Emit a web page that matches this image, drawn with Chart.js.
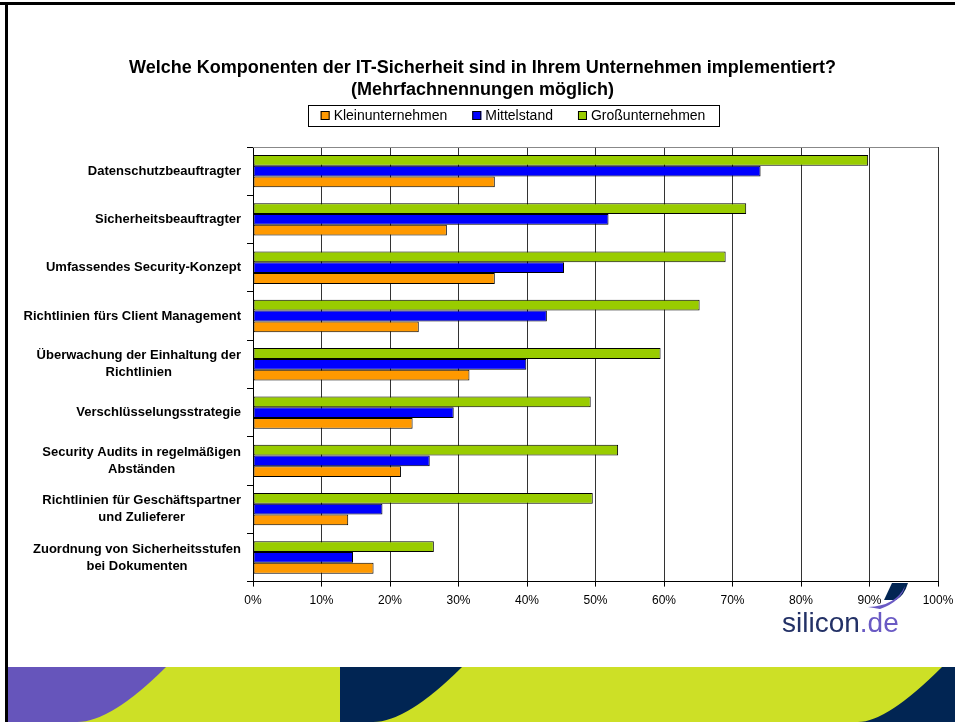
<!DOCTYPE html>
<html>
<head>
<meta charset="utf-8">
<script src="https://cdn.jsdelivr.net/npm/chart.js@4.4.1/dist/chart.umd.min.js"></script>
<style>
  html, body { margin: 0; padding: 0; background: #fff; }
  canvas { display: block; }
</style>
</head>
<body>
<canvas id="itChart" width="955" height="722"></canvas>
<script>
  const titleLines = [
    "Welche Komponenten der IT-Sicherheit sind in Ihrem Unternehmen implementiert?",
    "(Mehrfachnennungen möglich)"
  ];

  const categories = [
    ["Datenschutzbeauftragter"],
    ["Sicherheitsbeauftragter"],
    ["Umfassendes Security-Konzept"],
    ["Richtlinien fürs Client Management"],
    ["Überwachung der Einhaltung der", "Richtlinien"],
    ["Verschlüsselungsstrategie"],
    ["Security Audits in regelmäßigen", "Abständen"],
    ["Richtlinien für Geschäftspartner", "und Zulieferer"],
    ["Zuordnung von Sicherheitsstufen", "bei Dokumenten"]
  ];

  // values in percent
  const kleinunternehmen = [35.3, 28.3, 35.3, 24.2, 31.6, 23.3, 21.6, 13.9, 17.6];
  const mittelstand      = [74.1, 51.9, 45.4, 42.9, 39.9, 29.3, 25.8, 18.9, 14.6];
  const grossunternehmen = [89.8, 72.0, 69.0, 65.2, 59.5, 49.3, 53.3, 49.6, 26.4];

  const tickLabels = ["0%", "10%", "20%", "30%", "40%", "50%", "60%", "70%", "80%", "90%", "100%"];

  Chart.defaults.font.family = "Arial, 'Liberation Sans', sans-serif";
  Chart.defaults.color = "#000";

  // white page, black frame and the coloured band at the bottom
  const pageDeco = {
    id: 'pageDeco',
    beforeDraw(chart) {
      const c = chart.ctx;
      const w = chart.width, h = chart.height;
      c.save();
      c.fillStyle = '#fff';
      c.fillRect(0, 0, w, h);

      const top = 667;
      c.fillStyle = '#cde026';
      c.fillRect(8, top, w - 8, h - top);

      c.fillStyle = '#6655bb';
      c.beginPath();
      c.moveTo(8, top);
      c.lineTo(166, top);
      c.quadraticCurveTo(111, h, 77, h);
      c.lineTo(8, h);
      c.closePath();
      c.fill();

      c.fillStyle = '#012553';
      c.beginPath();
      c.moveTo(340, top);
      c.lineTo(462, top);
      c.quadraticCurveTo(407, h, 373, h);
      c.lineTo(340, h);
      c.closePath();
      c.fill();

      c.beginPath();
      c.moveTo(942, top);
      c.lineTo(w, top);
      c.lineTo(w, h);
      c.lineTo(858, h);
      c.quadraticCurveTo(887, h, 942, top);
      c.closePath();
      c.fill();

      c.fillStyle = '#000';
      c.fillRect(0, 2, w, 3);
      c.fillRect(5, 2, 3, h - 2);
      c.restore();
    },
    beforeDatasetsDraw(chart) {
      const c = chart.ctx;
      const a = chart.chartArea;
      c.save();
      c.strokeStyle = '#888';
      c.lineWidth = 1;
      c.beginPath();
      c.moveTo(a.left, a.top + 0.5);
      c.lineTo(a.right, a.top + 0.5);
      c.stroke();
      c.restore();
    }
  };

  // category labels: right aligned block, lines centred inside it
  const catLabels = {
    id: 'catLabels',
    afterDraw(chart) {
      const c = chart.ctx;
      const yScale = chart.scales.y;
      const right = chart.chartArea.left - 12;
      const lh = 17;
      c.save();
      c.font = "bold 13px Arial, 'Liberation Sans', sans-serif";
      c.fillStyle = '#000';
      c.textAlign = 'center';
      c.textBaseline = 'middle';
      chart.data.labels.forEach((lines, i) => {
        const y = yScale.getPixelForTick(i);
        const maxW = Math.max(...lines.map(l => c.measureText(l).width));
        const cx = right - maxW / 2;
        const y0 = y - (lines.length - 1) * lh / 2;
        lines.forEach((l, j) => c.fillText(l, cx, y0 + j * lh));
      });
      c.restore();
    }
  };

  // legend in a box, same order as the original
  const boxLegend = {
    id: 'boxLegend',
    afterDraw(chart) {
      const c = chart.ctx;
      const sets = chart.data.datasets.slice().reverse();
      const box = 9, gap = 25, textOff = 13;
      c.save();
      c.font = "14px Arial, 'Liberation Sans', sans-serif";
      const widths = sets.map(s => c.measureText(s.label).width);
      const total = widths.reduce((a, b) => a + b, 0) + sets.length * textOff + (sets.length - 1) * gap;
      let x = 513 - total / 2;
      const cy = 116;
      c.strokeStyle = '#000';
      c.lineWidth = 1;
      c.strokeRect(Math.round(x - 13) + 0.5, 105.5, Math.round(total + 26), 21);
      c.textBaseline = 'middle';
      c.textAlign = 'left';
      sets.forEach((s, i) => {
        c.fillStyle = s.backgroundColor;
        c.fillRect(x, cy - 5, box, box);
        c.strokeStyle = '#000';
        c.strokeRect(x + 0.5, cy - 4.5, box - 1, box - 1);
        c.fillStyle = '#000';
        c.fillText(s.label, x + textOff, cy);
        x += textOff + widths[i] + gap;
      });
      c.restore();
    }
  };

  // silicon.de logo at the lower right
  const logo = {
    id: 'logo',
    afterDraw(chart) {
      const c = chart.ctx;
      c.save();
      c.fillStyle = '#012553';
      c.beginPath();
      c.moveTo(892, 583);
      c.lineTo(908, 583);
      c.quadraticCurveTo(904, 596, 896, 600);
      c.lineTo(884, 600);
      c.closePath();
      c.fill();
      c.fillStyle = '#6a5ac4';
      c.beginPath();
      c.moveTo(868, 607);
      c.quadraticCurveTo(896, 606, 905, 586);
      c.quadraticCurveTo(902, 601, 880, 609);
      c.closePath();
      c.fill();

      c.font = "28px Arial, 'Liberation Sans', sans-serif";
      c.textBaseline = 'alphabetic';
      c.textAlign = 'left';
      c.fillStyle = '#233166';
      c.fillText('silicon', 782, 632);
      const w = c.measureText('silicon').width;
      c.fillStyle = '#6a5ac4';
      c.fillText('.de', 782 + w, 632);
      c.restore();
    }
  };

  new Chart(document.getElementById('itChart'), {
    type: 'bar',
    data: {
      labels: categories,
      datasets: [
        { label: 'Großunternehmen', data: grossunternehmen, backgroundColor: '#99cc00' },
        { label: 'Mittelstand', data: mittelstand, backgroundColor: '#0000ff' },
        { label: 'Kleinunternehmen', data: kleinunternehmen, backgroundColor: '#ff9900' }
      ].map(d => Object.assign(d, { borderColor: '#000', borderWidth: 1, borderSkipped: false }))
    },
    options: {
      indexAxis: 'y',
      responsive: false,
      animation: false,
      layout: { padding: { left: 10, right: 0, top: 0, bottom: 107 } },
      datasets: { bar: { barPercentage: 1, categoryPercentage: 0.67 } },
      plugins: {
        legend: { display: false },
        tooltip: { enabled: false },
        title: {
          display: true,
          text: titleLines,
          color: '#000',
          font: { size: 18, weight: 'bold', lineHeight: 22 / 18 },
          padding: { top: 57, bottom: 46 }
        }
      },
      scales: {
        x: {
          min: 0,
          max: 100,
          ticks: {
            stepSize: 10,
            padding: 7,
            font: { size: 12 },
            color: '#000',
            callback: (v, i) => tickLabels[i]
          },
          grid: { color: '#333', lineWidth: 1, tickLength: 5, tickColor: '#000' },
          border: { color: '#000', width: 1 },
          afterFit: s => { s.paddingRight = 17; s.paddingLeft = 0; }
        },
        y: {
          ticks: { display: false },
          grid: { drawOnChartArea: false, color: '#000', tickLength: 6 },
          border: { color: '#000', width: 1 },
          afterFit: s => { s.width = 243; }
        }
      }
    },
    plugins: [pageDeco, catLabels, boxLegend, logo]
  });
</script>
</body>
</html>
